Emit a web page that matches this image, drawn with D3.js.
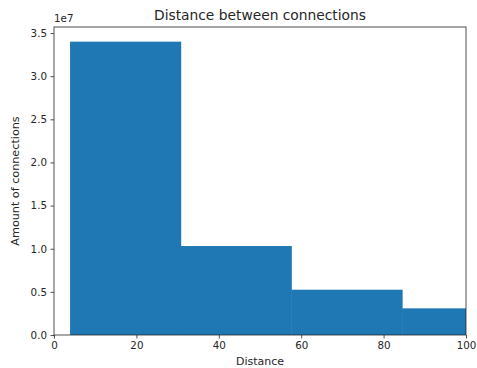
<!DOCTYPE html>
<html>
<head>
<meta charset="utf-8">
<script src="https://cdn.jsdelivr.net/npm/d3@7"></script>
<style>
  body { margin: 0; background: #fff; }
  text { font-family: "DejaVu Sans", sans-serif; fill: #262626; }
</style>
</head>
<body>
<script>
// histogram bins (distance) and counts
var binEdges = [3.9, 30.75, 57.6, 84.5, 111.4];
var counts = [3.40e7, 1.031e7, 0.525e7, 0.309e7];
var xTicks = [0, 20, 40, 60, 80, 100];
var yTicks = [0, 0.5e7, 1.0e7, 1.5e7, 2.0e7, 2.5e7, 3.0e7, 3.5e7];

var width = 477, height = 368;
var margin = {left: 54, right: 11, top: 27, bottom: 33};

var svg = d3.select("body").append("svg")
    .attr("width", width).attr("height", height);

var x = d3.scaleLinear().domain([0, 100]).range([margin.left, width - margin.right]);
var y = d3.scaleLinear().domain([0, 3.57e7]).range([height - margin.bottom, margin.top]);

svg.append("clipPath").attr("id", "clip")
  .append("rect")
    .attr("x", margin.left).attr("y", margin.top)
    .attr("width", width - margin.left - margin.right)
    .attr("height", height - margin.top - margin.bottom);

svg.append("g").attr("clip-path", "url(#clip)")
  .selectAll("rect").data(counts).enter()
  .append("rect")
    .attr("x", function(d, i) { return x(binEdges[i]); })
    .attr("width", function(d, i) { return x(binEdges[i + 1]) - x(binEdges[i]) + 0.5; })
    .attr("y", function(d) { return y(d); })
    .attr("height", function(d) { return y(0) - y(d); })
    .attr("fill", "#1f77b4");

var xAxis = d3.axisBottom(x).tickValues(xTicks).tickSize(3.5).tickPadding(3.5)
    .tickFormat(d3.format("d"));
var yAxis = d3.axisLeft(y).tickValues(yTicks).tickSize(3.5).tickPadding(3.5)
    .tickFormat(function(d) { return (d / 1e7).toFixed(1); });

var gx = svg.append("g").attr("transform", "translate(0," + (height - margin.bottom) + ")").call(xAxis);
var gy = svg.append("g").attr("transform", "translate(" + margin.left + ",0)").call(yAxis);
[gx, gy].forEach(function(g) {
  g.select(".domain").remove();
  g.selectAll("line").attr("stroke", "#262626").attr("stroke-width", 0.8);
  g.selectAll("text").style("font-size", "10.3px").attr("fill", "#262626");
});

// frame
svg.append("rect")
    .attr("x", margin.left).attr("y", margin.top)
    .attr("width", width - margin.left - margin.right)
    .attr("height", height - margin.top - margin.bottom)
    .attr("fill", "none").attr("stroke", "#262626").attr("stroke-width", 0.8);

svg.append("text").attr("x", (margin.left + width - margin.right) / 2).attr("y", 20)
    .attr("text-anchor", "middle").style("font-size", "13.8px")
    .text("Distance between connections");

svg.append("text").attr("x", margin.left).attr("y", 22)
    .style("font-size", "10.3px").text("1e7");

svg.append("text").attr("x", (margin.left + width - margin.right) / 2).attr("y", 368 - 3)
    .attr("text-anchor", "middle").style("font-size", "11px").text("Distance");

svg.append("text")
    .attr("transform", "translate(19," + ((margin.top + height - margin.bottom) / 2) + ") rotate(-90)")
    .attr("text-anchor", "middle").style("font-size", "11.2px").text("Amount of connections");
</script>
</body>
</html>
